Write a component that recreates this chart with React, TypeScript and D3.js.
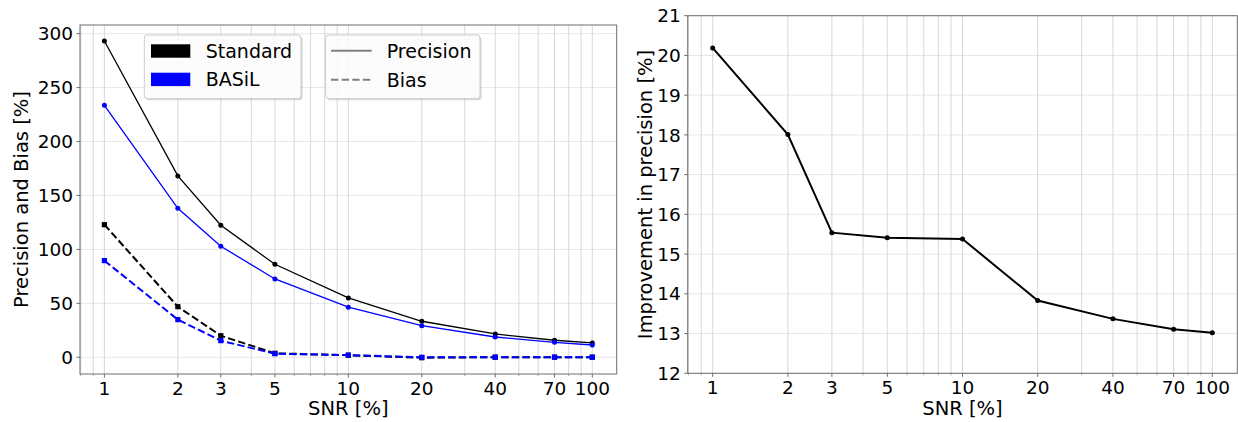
import React from 'react';
import * as d3 from 'd3';

// values
const snr = [1, 2, 3, 5, 10, 20, 40, 70, 100];
const precisionStandard = [293.2, 168.1, 122.4, 86.2, 55.0, 33.4, 21.6, 15.8, 13.3];
const precisionBasil = [233.6, 138.1, 102.9, 72.6, 46.4, 29.3, 18.8, 13.9, 11.4];
const biasStandard = [122.9, 46.9, 20.0, 3.7, 1.9, -0.4, 0.1, 0.1, 0.1];
const biasBasil = [89.6, 34.9, 15.4, 3.3, 2.0, 0.0, 0.1, 0.1, 0.1];
const improvement = [20.19, 18.01, 15.54, 15.41, 15.38, 13.83, 13.37, 13.11, 13.02];

const xTicks = [1, 2, 3, 5, 10, 20, 40, 70, 100];
const leftYTicks = [0, 50, 100, 150, 200, 250, 300];
const rightYTicks = [12, 13, 14, 15, 16, 17, 18, 19, 20, 21];
const methodLegend = [{ name: 'Standard', color: '#000000' }, { name: 'BASiL', color: '#0000ff' }];
const styleLegend = [{ name: 'Precision', dash: null }, { name: 'Bias', dash: '7.4,3.2' }];

const font = 'DejaVu Sans, sans-serif';
const spine = '#6e6e6e';
const xDomain: [number, number] = [Math.pow(10, -0.1), Math.pow(10, 2.1)];

const gridValues = (dom: [number, number]) => {
  const out: number[] = [];
  [0.1, 1, 10, 100].forEach(d => {
    for (let k = 1; k < 10; k++) {
      const v = k * d;
      if (v >= dom[0] && v <= dom[1]) out.push(v);
    }
  });
  return out;
};

const Frame = ({ x, y, yTicks }: any) => {
  const [x0, x1] = x.range();
  const [y0, y1] = y.range();
  const minors = gridValues(xDomain);
  return (
    <g>
      {yTicks.map((t: number) => (
        <line key={'hy' + t} x1={x0} x2={x1} y1={y(t)} y2={y(t)} stroke="#e3e3e3" strokeWidth={0.9} />
      ))}
      {minors.map(v => (
        <line key={'vx' + v} x1={x(v)} x2={x(v)} y1={y0} y2={y1} stroke="#d4d4d4" strokeWidth={0.9} />
      ))}
    </g>
  );
};

const Axes = ({ x, y, yTicks, xLabel, yLabel, yLabelX }: any) => {
  const [x0, x1] = x.range();
  const [y0, y1] = y.range();
  const minors = gridValues(xDomain).filter(v => !xTicks.includes(v));
  return (
    <g fontFamily={font} fill="#000">
      <rect x={x0} y={y1} width={x1 - x0} height={y0 - y1} fill="none" stroke={spine} strokeWidth={1} />
      {yTicks.map((t: number) => (
        <g key={'ty' + t}>
          <line x1={x0 - 3.5} x2={x0} y1={y(t)} y2={y(t)} stroke={spine} />
          <text x={x0 - 7} y={y(t)} dy="0.36em" textAnchor="end" fontSize={18.5}>{t}</text>
        </g>
      ))}
      {minors.map(v => (
        <line key={'mx' + v} x1={x(v)} x2={x(v)} y1={y0} y2={y0 + 2} stroke={spine} strokeWidth={0.6} />
      ))}
      {xTicks.map(t => (
        <g key={'tx' + t}>
          <line x1={x(t)} x2={x(t)} y1={y0} y2={y0 + 3.5} stroke={spine} />
          <text x={x(t)} y={y0 + 20.5} textAnchor="middle" fontSize={18.5}>{t}</text>
        </g>
      ))}
      <text x={(x0 + x1) / 2} y={415} textAnchor="middle" fontSize={19.5}>{xLabel}</text>
      <text transform={`translate(${yLabelX},${(y0 + y1) / 2}) rotate(-90)`} textAnchor="middle" dy="0.35em" fontSize={19.5}>{yLabel}</text>
    </g>
  );
};

const LegendBox = ({ x, y, w, h }: any) => (
  <g>
    <rect x={x + 1.5} y={y + 1.5} width={w} height={h} rx={3} fill="#000" opacity={0.15} />
    <rect x={x} y={y} width={w} height={h} rx={3} fill="#fff" fillOpacity={0.9} stroke="#cccccc" strokeWidth={1} />
  </g>
);

const Series = ({ x, y, values, color, width, dash, square }: any) => {
  const line = d3.line<number>().x((_, i) => x(snr[i])).y(d => y(d));
  return (
    <g>
      <path d={line(values) || ''} fill="none" stroke={color} strokeWidth={width} strokeDasharray={dash || undefined} />
      {values.map((v: number, i: number) =>
        square ? (
          <rect key={i} x={x(snr[i]) - 2.6} y={y(v) - 2.6} width={5.2} height={5.2} fill={color} />
        ) : (
          <circle key={i} cx={x(snr[i])} cy={y(v)} r={2.5} fill={color} />
        )
      )}
    </g>
  );
};

export default function App() {
  const xL = d3.scaleLog().domain(xDomain).range([80, 616.7]);
  const yL = d3.scaleLinear().domain([-15.5, 308]).range([374, 25]);
  const xR = d3.scaleLog().domain(xDomain).range([687.7, 1237.3]);
  const yR = d3.scaleLinear().domain([12, 21]).range([373.3, 15.7]);

  return (
    <svg width={1238} height={422} style={{ position: 'absolute', left: 0, top: 0, background: '#fff' }}>
      {/* left panel */}
      <Frame x={xL} y={yL} yTicks={leftYTicks} />
      <Series x={xL} y={yL} values={precisionStandard} color="#000" width={1.3} />
      <Series x={xL} y={yL} values={precisionBasil} color="#0000ff" width={1.3} />
      <Series x={xL} y={yL} values={biasStandard} color="#000" width={2} dash="7.4,3.2" square />
      <Series x={xL} y={yL} values={biasBasil} color="#0000ff" width={2} dash="7.4,3.2" square />
      <Axes x={xL} y={yL} yTicks={leftYTicks} xLabel="SNR [%]" yLabel="Precision and Bias [%]" yLabelX={21} />

      <g fontFamily={font} fontSize={19}>
        <LegendBox x={144.3} y={35} w={156.7} h={63.7} />
        {methodLegend.map((m, i) => (
          <g key={m.name}>
            <rect x={151} y={44.3 + i * 28.4} width={39.3} height={13.4} fill={m.color} />
            <text x={205.7} y={51 + i * 28.4} dy="0.36em">{m.name}</text>
          </g>
        ))}
        <LegendBox x={325.7} y={35} w={154.3} h={63.7} />
        {styleLegend.map((s, i) => (
          <g key={s.name}>
            <line x1={331} x2={371.7} y1={50.7 + i * 29} y2={50.7 + i * 29} stroke="#808080" strokeWidth={2} strokeDasharray={s.dash || undefined} />
            <text x={386.7} y={50.7 + i * 29} dy="0.36em">{s.name}</text>
          </g>
        ))}
      </g>

      {/* right panel */}
      <Frame x={xR} y={yR} yTicks={rightYTicks} />
      <Series x={xR} y={yR} values={improvement} color="#000" width={2} />
      <Axes x={xR} y={yR} yTicks={rightYTicks} xLabel="SNR [%]" yLabel="Improvement in precision [%]" yLabelX={645} />
    </svg>
  );
}
